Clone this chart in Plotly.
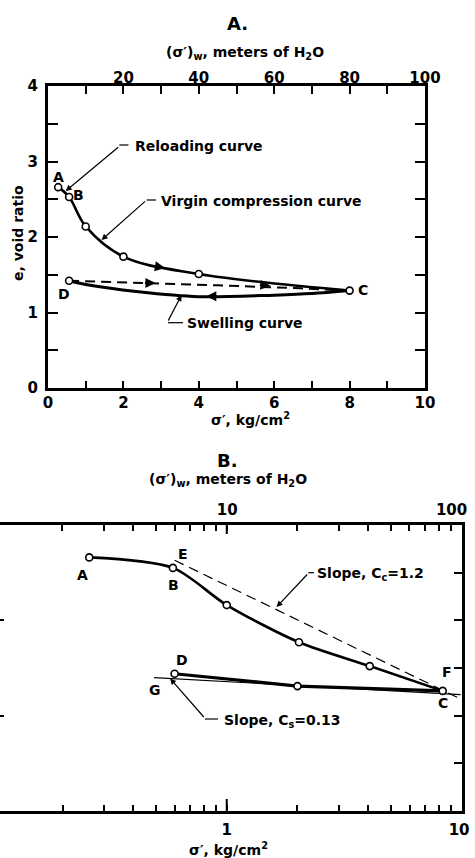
import math
import plotly.graph_objects as go

W, H = 475, 858
FONT = "DejaVu Sans"

# ---------------- Panel A data (linear axes) ----------------
a_pts_sigma = [0.27, 0.56, 1.0, 2.0, 4.0, 8.0]
a_pts_e = [2.66, 2.53, 2.14, 1.74, 1.51, 1.29]
a_virgin_sigma = [0.27, 0.56, 1.0, 2.0, 4.0, 8.0]
a_virgin_e = [2.66, 2.53, 2.14, 1.74, 1.51, 1.29]
a_reload_sigma = [0.56, 2.8, 4.5, 6.7, 8.0]
a_reload_e = [1.42, 1.39, 1.36, 1.32, 1.29]
a_swell_sigma = [8.0, 7.0, 6.0, 4.0, 2.4, 1.0, 0.56]
a_swell_e = [1.29, 1.25, 1.23, 1.21, 1.275, 1.37, 1.42]
a_D_sigma = [0.56]
a_D_e = [1.42]

a_xticks = list(range(0, 11))
a_xticklabels = ["0", "", "2", "", "4", "", "6", "", "8", "", "10"]
a_topticks = list(range(0, 101, 10))
a_toplabels = ["", "", "20", "", "40", "", "60", "", "80", "", "100"]
a_yticks = [0, 0.5, 1, 1.5, 2, 2.5, 3, 3.5, 4]
a_ylabels = ["0", "", "1", "", "2", "", "3", "", "4"]

# ---------------- Panel B data (log x axis) ----------------
b_virgin_sigma = [0.26, 0.59, 1.0, 2.03, 4.06, 8.3]
b_virgin_e = [2.66, 2.55, 2.16, 1.77, 1.52, 1.26]
b_swell_sigma = [0.6, 2.0, 8.3]
b_swell_e = [1.44, 1.31, 1.26]
b_cc_sigma = [0.6, 9.8]
b_cc_e = [2.63, 1.18]
b_cs_sigma = [0.49, 9.9]
b_cs_e = [1.40, 1.22]

b_xticks = [0.2, 0.3, 0.4, 0.5, 0.6, 0.7, 0.8, 0.9, 1, 2, 3, 4, 5, 6, 7, 8, 9, 10]
b_xticklabels = ["", "", "", "", "", "", "", "", "1", "", "", "", "", "", "", "", "", "10&nbsp;"]
b_topticks = [2, 3, 4, 5, 6, 7, 8, 9, 10, 20, 30, 40, 50, 60, 70, 80, 90, 100]
b_toplabels = ["", "", "", "", "", "", "", "", "&nbsp;&nbsp;&nbsp;&nbsp;10", "", "", "", "", "",
               "", "", "", "100"]
b_ytick_left = [1, 2]
b_ytick_right = [0.5, 1, 1.5, 2, 2.5]

B_XRANGE = [-0.965, 1]


def px(x):
    return x / W


def py(y):
    return 1 - y / H


# plot-area pixel boxes
A_L, A_R, A_T, A_B = 48, 425, 86, 388
B_L, B_R, B_T, B_B = 0, 461.7, 525, 811

fig = go.Figure()

marker_open = dict(symbol="circle", size=7, color="white",
                   line=dict(color="black", width=1.6))

# Panel A traces
fig.add_trace(go.Scatter(x=a_virgin_sigma, y=a_virgin_e, mode="lines",
                         line=dict(color="black", width=2.6, shape="spline", smoothing=1.0),
                         xaxis="x", yaxis="y", showlegend=False))
fig.add_trace(go.Scatter(x=a_swell_sigma, y=a_swell_e, mode="lines",
                         line=dict(color="black", width=3, shape="spline", smoothing=0.9),
                         xaxis="x", yaxis="y", showlegend=False))
fig.add_trace(go.Scatter(x=a_reload_sigma, y=a_reload_e, mode="lines",
                         line=dict(color="black", width=2, dash="10px,6px"),
                         xaxis="x", yaxis="y", showlegend=False))
fig.add_trace(go.Scatter(x=a_pts_sigma + a_D_sigma, y=a_pts_e + a_D_e, mode="markers",
                         marker=marker_open, xaxis="x", yaxis="y", showlegend=False))
# carrier (draws nothing) so the top meter axis of panel A is rendered
fig.add_trace(go.Scatter(x=[a_topticks[0], a_topticks[-1]], y=[None, None], mode="lines",
                         xaxis="x2", yaxis="y", showlegend=False, hoverinfo="skip"))

# Panel B traces
fig.add_trace(go.Scatter(x=b_cc_sigma, y=b_cc_e, mode="lines",
                         line=dict(color="black", width=1.2, dash="10px,6px"),
                         xaxis="x3", yaxis="y2", showlegend=False))
fig.add_trace(go.Scatter(x=b_cs_sigma, y=b_cs_e, mode="lines",
                         line=dict(color="black", width=1.2),
                         xaxis="x3", yaxis="y2", showlegend=False))
fig.add_trace(go.Scatter(x=b_virgin_sigma, y=b_virgin_e, mode="lines",
                         line=dict(color="black", width=2.6, shape="spline", smoothing=0.8),
                         xaxis="x3", yaxis="y2", showlegend=False))
fig.add_trace(go.Scatter(x=b_swell_sigma, y=b_swell_e, mode="lines",
                         line=dict(color="black", width=3.2),
                         xaxis="x3", yaxis="y2", showlegend=False))
fig.add_trace(go.Scatter(x=b_virgin_sigma + b_swell_sigma[:2], y=b_virgin_e + b_swell_e[:2],
                         mode="markers", marker=marker_open,
                         xaxis="x3", yaxis="y2", showlegend=False))
# carriers for the top meter axis and the right e axis of panel B
fig.add_trace(go.Scatter(x=[b_topticks[0], b_topticks[-1]], y=[None, None], mode="lines",
                         xaxis="x4", yaxis="y2", showlegend=False, hoverinfo="skip"))
fig.add_trace(go.Scatter(x=[None, None], y=[b_ytick_right[0], b_ytick_right[-1]], mode="lines",
                         xaxis="x3", yaxis="y3", showlegend=False, hoverinfo="skip"))

tickfont = dict(family=FONT, size=15, color="black", weight="bold")
axis_common = dict(showgrid=False, zeroline=False, showline=True, linecolor="black",
                   linewidth=3, ticks="inside", tickcolor="black", tickwidth=2,
                   tickfont=tickfont, automargin=False, ticklabeloverflow="allow")

fig.update_layout(
    width=W, height=H, autosize=False,
    margin=dict(l=0, r=0, t=0, b=0, pad=0, autoexpand=False),
    paper_bgcolor="white", plot_bgcolor="white",
    hovermode=False,
    xaxis=dict(domain=[px(A_L), px(A_R)], range=[0, 10], anchor="y",
               tickmode="array", tickvals=a_xticks, ticktext=a_xticklabels,
               ticklen=7, ticklabelstandoff=-1, **axis_common),
    xaxis2=dict(domain=[px(A_L), px(A_R)], range=[0, 100], anchor="y", overlaying="x",
                side="top", tickmode="array", tickvals=a_topticks, ticktext=a_toplabels,
                ticklen=8, ticklabelstandoff=-6, **axis_common),
    yaxis=dict(domain=[py(A_B), py(A_T)], range=[0, 4], anchor="x",
               tickmode="array", tickvals=a_yticks, ticktext=a_ylabels,
               ticklen=10, mirror="ticks", ticklabelstandoff=4, **axis_common),
    xaxis3=dict(domain=[px(B_L), px(B_R)], type="log", range=B_XRANGE, anchor="y2",
                tickmode="array", tickvals=b_xticks, ticktext=b_xticklabels,
                ticklen=6, ticklabelstandoff=3, **axis_common),
    xaxis4=dict(domain=[px(B_L), px(B_R)], type="log",
                range=[B_XRANGE[0] + 1, B_XRANGE[1] + 1.0005], anchor="y2",
                overlaying="x3", side="top",
                tickmode="array", tickvals=b_topticks, ticktext=b_toplabels,
                ticklen=6, ticklabelstandoff=1, ticklabelshift=-10, **axis_common),
    yaxis2=dict(domain=[py(B_B), py(B_T)], range=[0, 3], anchor="x3",
                showgrid=False, zeroline=False, showline=False, ticks="inside",
                tickmode="array", tickvals=b_ytick_left, ticklen=4, tickwidth=2,
                tickcolor="black", showticklabels=False, automargin=False),
    yaxis3=dict(domain=[py(B_B), py(B_T)], range=[0, 3], anchor="x3", overlaying="y2",
                side="right", tickmode="array", tickvals=b_ytick_right,
                ticklen=8, showticklabels=False, **axis_common),
)

lbl = dict(family=FONT, size=14, color="black", weight="bold")
ann = []


def text_paper(x, y, t, size=14, xanchor="center", angle=0):
    ann.append(dict(xref="paper", yref="paper", x=px(x), y=py(y), text=t,
                    showarrow=False, xanchor=xanchor, yanchor="middle", textangle=angle,
                    font=dict(family=FONT, size=size, color="black", weight="bold")))


def text_data(xr, yr, x, y, t, xanchor="center"):
    ann.append(dict(xref=xr, yref=yr, x=x, y=y, text=t, showarrow=False,
                    xanchor=xanchor, yanchor="middle", font=lbl))


def arrow(xr, yr, x, y, ax, ay, head=2, size=1.0, width=1.2):
    ann.append(dict(xref=xr, yref=yr, x=x, y=y, ax=ax, ay=ay, text="", showarrow=True,
                    arrowhead=head, arrowsize=size, arrowwidth=width, arrowcolor="black",
                    standoff=0, startstandoff=0))


# titles
text_paper(237, 23, "A.", size=18)
text_paper(245, 53, "(σ′)<sub>w</sub>, meters of H<sub>2</sub>O", size=14)
text_paper(250, 419, "σ′, kg/cm<sup>2</sup>", size=14)
text_paper(18, 233, "e, void ratio", size=14, angle=-90)
text_paper(227, 460, "B.", size=18)
text_paper(228, 480, "(σ′)<sub>w</sub>, meters of H<sub>2</sub>O", size=14)
text_paper(228, 849, "σ′, kg/cm<sup>2</sup>", size=14)

# Panel A point labels and callouts
text_data("x", "y", 0.27, 2.80, "A")
text_data("x", "y", 0.82, 2.56, "B")
text_data("x", "y", 8.36, 1.30, "C")
text_data("x", "y", 0.42, 1.25, "D")
text_data("x", "y", 2.25, 3.21, "Reloading curve", xanchor="left")
text_data("x", "y", 2.94, 2.48, "Virgin compression curve", xanchor="left")
text_data("x", "y", 3.63, 0.86, "Swelling curve", xanchor="left")
arrow("x", "y", 0.47, 2.61, 54, -45)
arrow("x", "y", 1.42, 1.96, 45, -40)
arrow("x", "y", 3.54, 1.23, -14, 27)
# direction arrows on the curves
arrow("x", "y", 3.1, 1.59, -12, -2, head=2, size=0.8, width=2.5)
arrow("x", "y", 5.9, 1.355, -12, -1, head=2, size=0.8, width=2.5)
arrow("x", "y", 2.85, 1.39, -12, 0, head=2, size=0.8, width=2.5)
arrow("x", "y", 4.2, 1.215, 12, 0, head=2, size=0.8, width=2.5)

# Panel B labels (log axis: positions as log10)
L = math.log10
text_data("x3", "y2", L(0.244), 2.48, "A")
text_data("x3", "y2", L(0.593), 2.37, "B")
text_data("x3", "y2", L(0.65), 2.70, "E")
text_data("x3", "y2", L(0.643), 1.58, "D")
text_data("x3", "y2", L(0.495), 1.27, "G")
text_data("x3", "y2", L(8.35), 1.13, "C")
text_data("x3", "y2", L(8.66), 1.46, "F")
text_data("x3", "y2", L(2.38), 2.49, "Slope, C<sub>c</sub>=1.2", xanchor="left")
text_data("x3", "y2", L(0.952), 0.94, "Slope, C<sub>s</sub>=0.13", xanchor="left")
arrow("x3", "y2", L(1.63), 2.14, 32, -34)
arrow("x3", "y2", L(0.574), 1.39, 35, 40)

fig.update_layout(annotations=ann)

# short horizontal kinks of the leader lines
kinks = [(119.3, 128.5, 145), (146.7, 156, 200), (168, 183, 322.7),
         (308.3, 314, 572.7), (205, 218, 719)]
shapes = [dict(type="line", xref="paper", yref="paper",
               x0=px(a), x1=px(b), y0=py(y), y1=py(y),
               line=dict(color="black", width=1.2)) for a, b, y in kinks]
# longer decade ticks of panel B (at 1 kg/cm2 bottom and 10 m top)
dec = (0 - B_XRANGE[0]) / (B_XRANGE[1] - B_XRANGE[0])
shapes.append(dict(type="line", xref="x3 domain", yref="y2 domain", x0=dec, x1=dec,
                   y0=0, y1=12 / (B_B - B_T), line=dict(color="black", width=2)))
shapes.append(dict(type="line", xref="x3 domain", yref="y2 domain", x0=dec, x1=dec,
                   y0=1, y1=1 - 9 / (B_B - B_T), line=dict(color="black", width=2)))
fig.update_layout(shapes=shapes)

fig.write_html(
    "out.html",
    config={"displayModeBar": False, "responsive": False},
    post_script=("document.body.style.margin='0';"
                 "document.body.style.overflow='hidden';"
                 "document.documentElement.style.overflow='hidden';"),
)
